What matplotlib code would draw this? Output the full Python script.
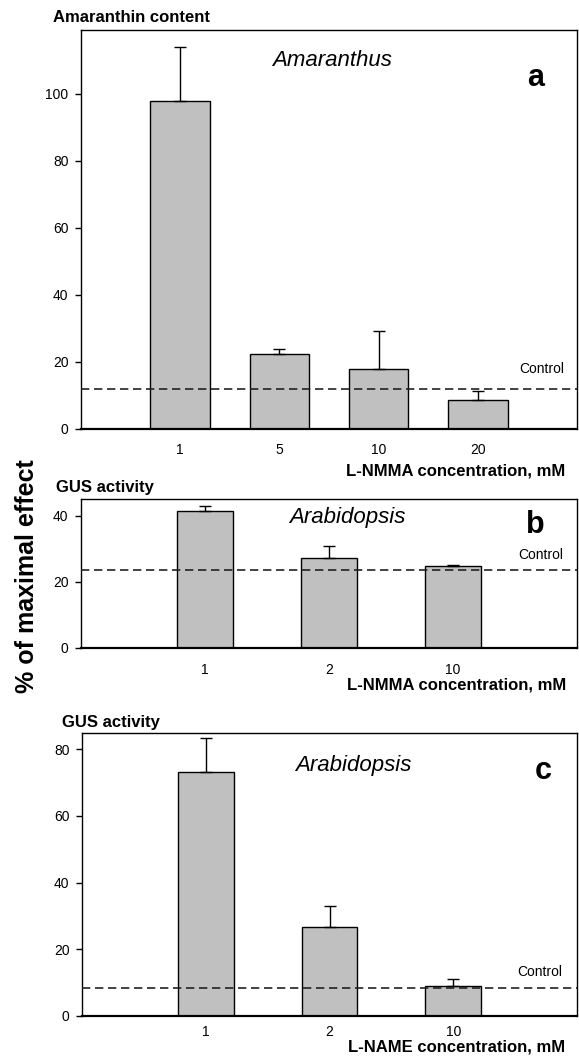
import matplotlib
matplotlib.use("Agg")
import matplotlib.pyplot as plt

plt.rcParams["font.family"] = ["Liberation Sans", "DejaVu Sans"]

# Panel a: Amaranthus, L-NMMA
a_labels = ["1", "5", "10", "20"]
a_vals = [97.9, 22.4, 18.0, 8.8]
a_err = [16.1, 1.4, 11.2, 2.6]
a_control = 11.9

# Panel b: Arabidopsis, L-NMMA
b_labels = ["1", "2", "10"]
b_vals = [41.4, 27.0, 24.7]
b_err = [1.4, 3.8, 0.4]
b_control = 23.5

# Panel c: Arabidopsis, L-NAME
c_labels = ["1", "2", "10"]
c_vals = [73.3, 26.6, 9.0]
c_err = [10.2, 6.4, 1.9]
c_control = 8.3

W, H = 579, 1058
fig = plt.figure(figsize=(W / 100, H / 100), dpi=100)


def fx(px):
    return px / W


def fy(py):
    return 1 - py / H


def panel(left, top, right, bottom, labels, vals, err, control, ymax, yticks,
          width, xpad):
    ax = fig.add_axes([fx(left), fy(bottom), fx(right - left), (bottom - top) / H])
    x = list(range(len(vals)))
    ax.bar(x, vals, width=width, color="#c0c0c0", edgecolor="black",
           linewidth=1.0, zorder=2)
    ax.errorbar(x, vals, yerr=[[0] * len(err), err], fmt="none",
                ecolor="black", elinewidth=1.0, capsize=4.2, capthick=1.0,
                zorder=3)
    ax.axhline(control, color="#222222", lw=1.2, dashes=(5, 2.8), zorder=4)
    ax.set_xlim(-1, len(vals))
    ax.set_ylim(0, ymax)
    ax.set_yticks(yticks)
    ax.set_xticks(x)
    ax.set_xticklabels(labels)
    ax.tick_params(axis="x", length=0, pad=xpad, labelsize=10)
    ax.tick_params(axis="y", length=4, width=1.0, pad=5, labelsize=10,
                   direction="out")
    for s in ax.spines.values():
        s.set_linewidth(1.0)
    ax.spines["bottom"].set_linewidth(1.6)
    return ax


panel(81, 30, 577, 429, a_labels, a_vals, a_err, a_control, 119.1,
      [0, 20, 40, 60, 80, 100], 0.6, 10)
panel(81, 499, 577, 647.7, b_labels, b_vals, b_err, b_control, 45,
      [0, 20, 40], 0.45, 11)
panel(82, 732.7, 577, 1015.7, c_labels, c_vals, c_err, c_control, 85,
      [0, 20, 40, 60, 80], 0.45, 6.5)

# titles
fig.text(fx(53), fy(18), "Amaranthin content", fontsize=12, fontweight="bold",
         ha="left", va="center")
fig.text(fx(56), fy(487), "GUS activity", fontsize=12, fontweight="bold",
         ha="left", va="center")
fig.text(fx(62), fy(722), "GUS activity", fontsize=12, fontweight="bold",
         ha="left", va="center")

# species
fig.text(fx(332), fy(60), "Amaranthus", fontsize=16, style="italic",
         ha="center", va="center")
fig.text(fx(347), fy(517), "Arabidopsis", fontsize=16, style="italic",
         ha="center", va="center")
fig.text(fx(353), fy(766), "Arabidopsis", fontsize=16, style="italic",
         ha="center", va="center")

# panel letters
fig.text(fx(536), fy(78), "a", fontsize=22, fontweight="bold",
         ha="center", va="center")
fig.text(fx(535), fy(525), "b", fontsize=22, fontweight="bold",
         ha="center", va="center")
fig.text(fx(543), fy(771), "c", fontsize=22, fontweight="bold",
         ha="center", va="center")

# control labels
fig.text(fx(564), fy(369), "Control", fontsize=10, ha="right", va="center")
fig.text(fx(563), fy(555), "Control", fontsize=10, ha="right", va="center")
fig.text(fx(562), fy(972), "Control", fontsize=10, ha="right", va="center")

# x axis titles
fig.text(fx(565), fy(471), "L-NMMA concentration, mM", fontsize=12,
         fontweight="bold", ha="right", va="center")
fig.text(fx(566), fy(685), "L-NMMA concentration, mM", fontsize=12,
         fontweight="bold", ha="right", va="center")
fig.text(fx(565), fy(1047), "L-NAME concentration, mM", fontsize=12,
         fontweight="bold", ha="right", va="center")

# shared y label
fig.text(fx(27), fy(576), "% of maximal effect", fontsize=18,
         fontweight="bold", rotation=90, ha="center", va="center")

fig.savefig("out.png", dpi=100)
